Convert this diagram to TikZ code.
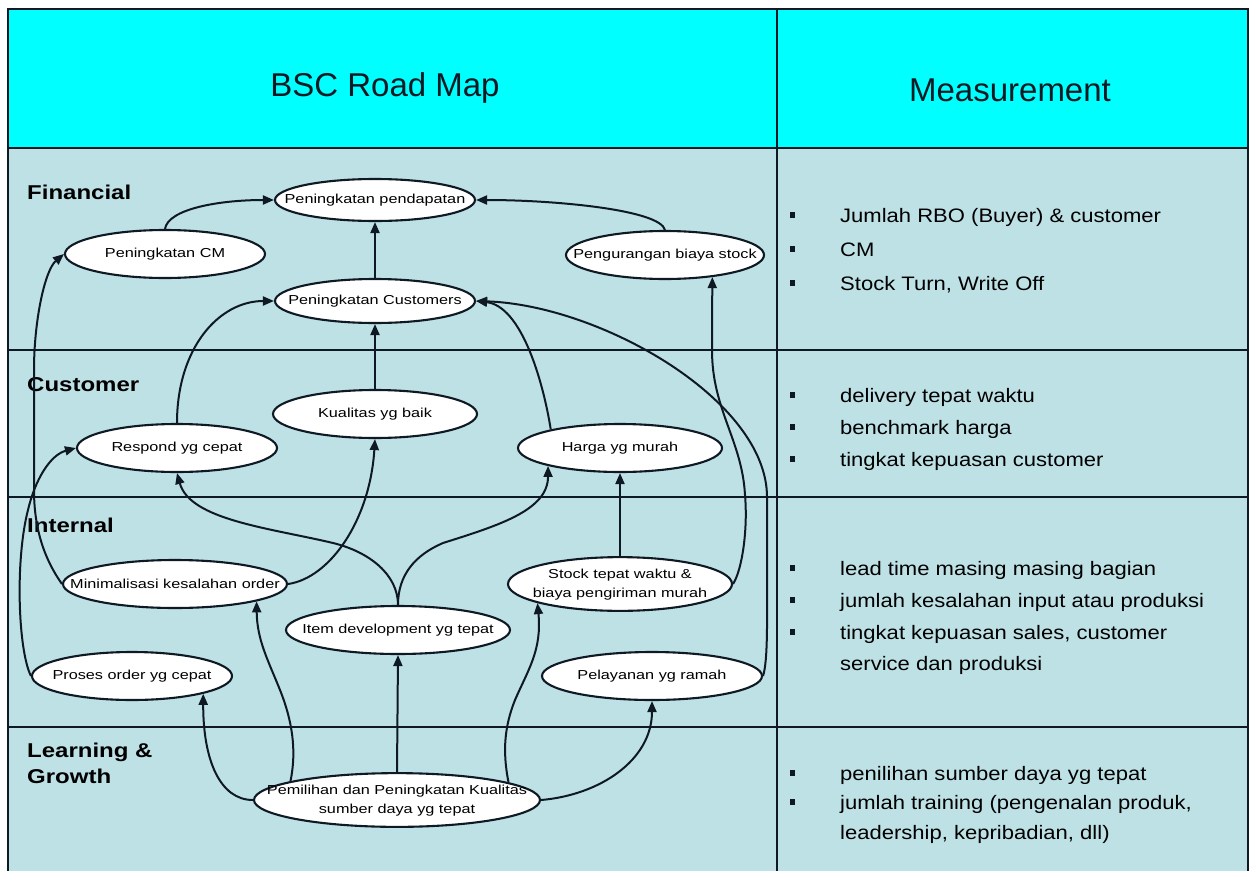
\documentclass[tikz,border=0pt]{standalone}
\usepackage{fontspec}
\setmainfont{Liberation Sans}
\newfontfamily\elfont[FakeStretch=1.25]{Liberation Sans}
\newfontfamily\msfont[FakeStretch=1.13]{Liberation Sans}
\newfontfamily\lbfont[FakeStretch=1.2]{Liberation Sans}
\usetikzlibrary{arrows.meta,shapes.geometric,calc}
\definecolor{hdr}{RGB}{0,255,255}
\definecolor{cellc}{RGB}{190,225,230}
\definecolor{ink}{RGB}{15,25,35}
\newcommand\one[1]{\makebox[0pt]{#1}}
\newcommand\two[2]{\makebox[0pt]{\begin{tabular}{@{}c@{}}#1\\#2\end{tabular}}}
\begin{document}
\begin{tikzpicture}[x=1pt,y=1pt,
  el/.style={ellipse,draw=ink,line width=2.1pt,fill=white,inner sep=0pt,minimum height=48pt,font=\elfont\fontsize{13}{19}\selectfont},
  arr/.style={draw=ink,line width=2pt,-{Triangle[length=11pt,width=9pt]}},
  grid/.style={draw=ink,line width=2pt},
  lbl/.style={anchor=west,align=left,font=\lbfont\bfseries\fontsize{20}{26}\selectfont,inner sep=0pt},
  ms/.style={anchor=base west,font=\msfont\fontsize{19.5}{31}\selectfont,inner sep=0pt},
  bul/.style={fill=ink,minimum width=5pt,minimum height=6pt,inner sep=0pt},
  hd/.style={font=\fontsize{33}{38}\selectfont,inner sep=0pt,text=ink}
]
\useasboundingbox (0,0) rectangle (1250,-870);
\clip (0,0) rectangle (1250,-870);
% table
\fill[white] (0,0) rectangle (1250,-870);
\fill[hdr] (8,-9) rectangle (1248,-148);
\fill[cellc] (8,-148) rectangle (1248,-890);
\draw[grid] (8,-9) rectangle (1248,-890);
\draw[grid,line width=2.6pt] (8,-148) -- (1248,-148);
\draw[grid] (8,-350) -- (1248,-350);
\draw[grid] (8,-497) -- (1248,-497);
\draw[grid] (8,-727) -- (1248,-727);
\draw[grid] (777,-9) -- (777,-890);
% headers
\node[hd] (h1) at (385,-88) {BSC Road Map};
\node[hd] (h2) at (1010,-90) {Measurement};
% row labels
\node[lbl] (lf) at (27,-192) {Financial};
\node[lbl] (lc) at (27,-385) {Customer};
\node[lbl] (li) at (27,-525) {Internal};
\node[lbl] (ll) at (27,-763) {Learning \&\\Growth};
% ellipses
\node[el,minimum width=200pt,minimum height=42pt] (P1) at (375,-200) {\one{Peningkatan pendapatan}};
\node[el,minimum width=200pt] (P2) at (165,-254) {\one{Peningkatan CM}};
\node[el,minimum width=198pt] (P3) at (665,-255) {\one{Pengurangan biaya stock}};
\node[el,minimum width=200pt,minimum height=44pt] (P4) at (375,-301) {\one{Peningkatan Customers}};
\node[el,minimum width=204pt] (C1) at (375,-414) {\one{Kualitas yg baik}};
\node[el,minimum width=200pt] (C2) at (177,-448) {\one{Respond yg cepat}};
\node[el,minimum width=204pt] (C3) at (620,-448) {\one{Harga yg murah}};
\node[el,minimum width=224pt] (I1) at (175,-584) {\one{Minimalisasi kesalahan order}};
\node[el,minimum width=224pt] (I2) at (398,-630) {\one{Item development yg tepat}};
\node[el,minimum width=224pt] (I3) at (620,-584) {\two{Stock tepat waktu \&}{biaya pengiriman murah}};
\node[el,minimum width=200pt] (I4) at (132,-676) {\one{Proses order yg cepat}};
\node[el,minimum width=220pt] (I5) at (652,-676) {\one{Pelayanan yg ramah}};
\node[el,minimum width=286pt] (L1) at (397,-800) {\two{Pemilihan dan Peningkatan Kualitas}{sumber daya yg tepat}};
% connectors
\draw[arr] (P2.north) .. controls +(3,20) and +(-55,0) .. (P1.west);
\draw[arr] (P3.north) .. controls +(-5,20) and +(80,0) .. (P1.east);
\draw[arr] (P4.north) -- (P1.south);
\draw[arr] (C1.north) -- (P4.south);
\draw[arr] (C2.north) .. controls +(0,75) and +(-55,0) .. (P4.west);
\draw[arr] (C3.165) .. controls +(-8,50) and +(45,-5) .. (P4.east);
\draw[arr] (I3.east) .. controls (742,-570) and (748,-530) .. (745,-495) .. controls (742,-440) and (712,-410) .. (712,-350) -- (P3.335.5);
\draw[arr] (I5.east) .. controls (768,-660) and (767,-620) .. (767,-570) -- (767,-497) .. controls (767,-400) and (600,-305) .. (P4.east);
\draw[arr] (I2.north) .. controls (398,-575) and (370,-552) .. (333,-543) .. controls (270,-528) and (190,-520) .. (C2.south);
\draw[arr] (I2.north) .. controls (398,-575) and (415,-555) .. (443,-543) .. controls (500,-525) and (548,-510) .. (C3.194);
\draw[arr] (I3.north) -- (C3.south);
\draw[arr] (I1.east) .. controls (330,-578) and (370,-520) .. (C1.south);
\draw[arr] (I1.west) .. controls (45,-560) and (34,-530) .. (34,-490) -- (34,-370) .. controls (34,-320) and (45,-270) .. (P2.west);
\draw[arr] (I4.west) .. controls (18,-650) and (15,-560) .. (28,-510) .. controls (35,-480) and (50,-455) .. (C2.west);
\draw[arr] (L1.west) .. controls (220,-800) and (203,-760) .. (I4.346.6);
\draw[arr] (L1.170.2) .. controls (297,-750) and (292,-720) .. (280,-690) .. controls (268,-660) and (257,-640) .. (I1.348.8);
\draw[arr] (L1.north) -- (I2.south);
\draw[arr] (L1.9.2) .. controls (502,-750) and (505,-725) .. (515,-700) .. controls (528,-670) and (542,-650) .. (I3.193);
\draw[arr] (L1.east) .. controls (600,-795) and (652,-760) .. (I5.south);
% measurements
\node[bul] (fb1) at (792,-215) {};
\node[bul] (fb2) at (792,-249) {};
\node[bul] (fb3) at (792,-283) {};
\node[ms] (ft1) at (840,-222) {Jumlah RBO (Buyer) \& customer};
\node[ms] (ft2) at (840,-256) {CM};
\node[ms] (ft3) at (840,-290) {Stock Turn, Write Off};
\node[bul] (cb1) at (792,-395) {};
\node[bul] (cb2) at (792,-427) {};
\node[bul] (cb3) at (792,-459) {};
\node[ms] (ct1) at (840,-402) {delivery tepat waktu};
\node[ms] (ct2) at (840,-434) {benchmark harga};
\node[ms] (ct3) at (840,-466) {tingkat kepuasan customer};
\node[bul] (ib1) at (792,-568) {};
\node[bul] (ib2) at (792,-600) {};
\node[bul] (ib3) at (792,-632) {};
\node[ms] (it1) at (840,-575) {lead time masing masing bagian};
\node[ms] (it2) at (840,-607) {jumlah kesalahan input atau produksi};
\node[ms] (it3) at (840,-639) {tingkat kepuasan sales, customer};
\node[ms] (it4) at (840,-670) {service dan produksi};
\node[bul] (lb1) at (792,-773) {};
\node[bul] (lb2) at (792,-802) {};
\node[ms] (lt1) at (840,-780) {penilihan sumber daya yg tepat};
\node[ms] (lt2) at (840,-809) {jumlah training (pengenalan produk,};
\node[ms] (lt3) at (840,-839) {leadership, kepribadian, dll)};
\end{tikzpicture}
\end{document}
